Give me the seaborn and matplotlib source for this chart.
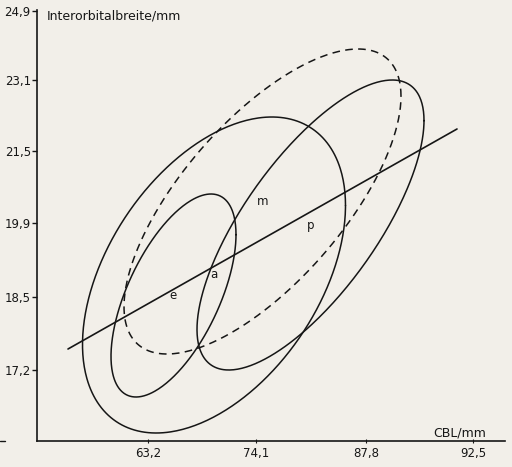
import numpy as np
import pandas as pd
import matplotlib
matplotlib.use("Agg")
import matplotlib.pyplot as plt
import seaborn as sns

sns.set_theme(style="white")
plt.rcParams['font.family'] = ['DejaVu Sans']

# --- data (plot units, axes origin at the corner) ---
x_tick_pos = [111, 219, 329, 436]
x_tick_labels = ["63,2", "74,1", "87,8", "92,5"]
y_tick_pos = [430, 361, 290, 218, 144, 71]
y_tick_labels = ["24,9", "23,1", "21,5", "19,9", "18,5", "17,2"]

groups = ["a", "p", "m", "e"]
center_x = [177.0, 273.5, 225.5, 136.5]
center_y = [166.0, 216.0, 239.5, 145.5]
spread_x = [131.5, 113.5, 138.5, 62.5]
spread_y = [158.0, 145.0, 152.5, 101.5]
corr = [0.44, 0.72, 0.69, 0.60]
dashed = [False, False, True, False]

line_x = [31, 420]
line_y = [92, 312]

ink = "#161616"
paper = "#f2efe9"

rows = []
t = np.linspace(0, 2 * np.pi, 400)
for g, cx, cy, w, h, r in zip(groups, center_x, center_y, spread_x, spread_y, corr):
    xs = cx + w * np.cos(t)
    ys = cy + h * (r * np.cos(t) + np.sqrt(1 - r * r) * np.sin(t))
    for i, (a, b) in enumerate(zip(xs, ys)):
        rows.append({"group": g, "x": a, "y": b, "order": i})
df = pd.DataFrame(rows)

fig = plt.figure(figsize=(5.12, 4.67), dpi=100, facecolor=paper)
ax = fig.add_axes([37 / 512, 26 / 467, 468 / 512, 431 / 467])
ax.set_facecolor(paper)

for g, d in zip(groups, dashed):
    sub = df[df["group"] == g]
    sns.lineplot(data=sub, x="x", y="y", sort=False, estimator=None, ax=ax,
                 color=ink, lw=1.1, linestyle=(0, (5, 3.5)) if d else "-")

sns.lineplot(x=line_x, y=line_y, ax=ax, color=ink, lw=1.2, sort=False, estimator=None)

for g, cx, cy in zip(groups, center_x, center_y):
    ax.text(cx, cy, g, fontsize=8.5, color=ink, ha="center", va="center",
            bbox=dict(facecolor="none", edgecolor="none", pad=0))

ax.set_xlim(0, 468)
ax.set_ylim(0, 431)
ax.set_xticks(x_tick_pos)
ax.set_xticklabels(x_tick_labels)
ax.set_yticks(y_tick_pos)
ax.set_yticklabels(y_tick_labels)
ax.set_xlabel("")
ax.set_ylabel("")
for s in ["top", "right"]:
    ax.spines[s].set_visible(False)
for s in ["left", "bottom"]:
    ax.spines[s].set_color(ink)
    ax.spines[s].set_linewidth(1.2)
ax.tick_params(axis="y", direction="out", length=3.5, width=1, color=ink,
               labelsize=8.5, labelcolor=ink, pad=1, left=True)
ax.tick_params(axis="x", direction="inout", length=3, width=0.8, color=ink,
               labelsize=8.5, labelcolor=ink, pad=3, bottom=True)

ax.text(10, 425, "Interorbitalbreite/mm", fontsize=9, color=ink,
        ha="left", va="center")
ax.text(396, 8, "CBL/mm", fontsize=9, color=ink, ha="left", va="center")

fig.add_artist(plt.Line2D([0, 5 / 512], [26 / 467, 26 / 467], color=ink, lw=1))

fig.savefig("out.png", dpi=100, facecolor=paper)
